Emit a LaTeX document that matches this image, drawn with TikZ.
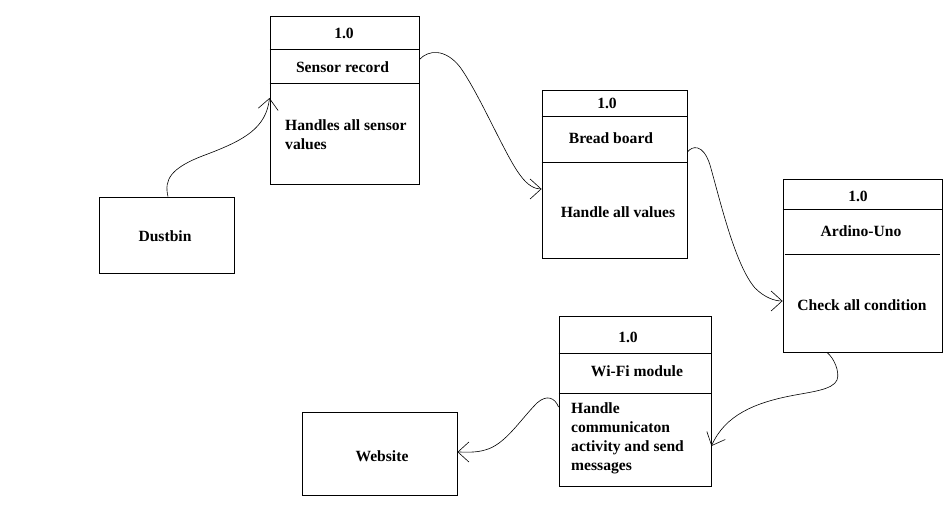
\documentclass[tikz,border=0pt]{standalone}
\usepackage{fontspec}
\setmainfont{Liberation Serif}
\usetikzlibrary{arrows.meta,calc}
\begin{document}
\begin{tikzpicture}[x=1pt,y=-1pt,
  font=\fontsize{15.6}{19}\selectfont\bfseries,
  box/.style={draw,line width=0.9pt,rectangle,inner sep=0pt},
  lbl/.style={inner sep=0pt},
  divider/.style={line width=0.9pt},
  conn/.style={line width=0.6pt,-{Straight Barb[length=11pt,width=20pt,line width=0.6pt]}}]
\useasboundingbox[fill=white] (0,0) rectangle (951,526);

% boxes
\node[box,minimum width=149pt,minimum height=168pt] (sr) at (344.5,100) {};
\node[box,minimum width=145pt,minimum height=168pt] (bb) at (614.5,174) {};
\node[box,minimum width=159pt,minimum height=173pt] (ar) at (862.5,265.5) {};
\node[box,minimum width=152pt,minimum height=170pt] (wf) at (635,401) {};
\node[box,minimum width=135pt,minimum height=76pt] (db) at (166.5,235) {};
\node[lbl] (dbt) at (165,236) {Dustbin};
\node[box,minimum width=155pt,minimum height=83pt] (ws) at (379.5,453.5) {};
\node[lbl] (wst) at (382,456) {Website};

% dividers
\draw[divider] (sr.west |- 0,49) -- (sr.east |- 0,49);
\draw[divider] (sr.west |- 0,83) -- (sr.east |- 0,83);
\draw[divider] (bb.west |- 0,116) -- (bb.east |- 0,116);
\draw[divider] (bb.west |- 0,162) -- (bb.east |- 0,162);
\draw[divider] (ar.west |- 0,209) -- (ar.east |- 0,209);
\draw[divider] ($(ar.west |- 0,254)+(2,0)$) -- ($(ar.east |- 0,254)+(-2,0)$);
\draw[divider] (wf.west |- 0,353) -- (wf.east |- 0,353);
\draw[divider] (wf.west |- 0,393) -- (wf.east |- 0,393);

% texts
\node[lbl] (sr1) at (344,33) {1.0};
\node[lbl] (sr2) at (342.5,67) {Sensor record};
\node[lbl,anchor=west,align=left] (sr3) at (285,135) {Handles all sensor\\values};
\node[lbl] (bb1) at (607,103) {1.0};
\node[lbl] (bb2) at (611,138) {Bread board};
\node[lbl] (bb3) at (618,212) {Handle all values};
\node[lbl] (ar1) at (858,196) {1.0};
\node[lbl] (ar2) at (861,231) {Ardino-Uno};
\node[lbl] (ar3) at (862,305) {Check all condition};
\node[lbl] (wf1) at (628,337) {1.0};
\node[lbl] (wf2) at (637,371) {Wi-Fi module};
\node[lbl,anchor=west,align=left] (wf3) at (571,438) {Handle\\communicaton\\activity and send\\messages};

% connectors
\draw[conn] ([xshift=1.5pt]db.north) .. controls (164,180) and (170,168) .. (205,155)
  .. controls (245,140) and (266,128) .. ([yshift=2pt]sr.west);
\draw[conn] ([yshift=-44pt]sr.north east) .. controls (428,50) and (445,48) .. (460,67)
  .. controls (480,95) and (505,155) .. (520,175)
  .. controls (528,186) and (535,189) .. ([yshift=-15pt]bb.west);
\draw[conn] ([yshift=22pt]bb.east) .. controls (692,146) and (703,143) .. (710,165)
  .. controls (720,200) and (735,265) .. (755,288)
  .. controls (765,298) and (775,301) .. ([yshift=-35.5pt]ar.west);
\draw[conn] ([xshift=-35.5pt]ar.south) .. controls (834,358) and (840,372) .. (837,380)
  .. controls (833,390) and (810,392) .. (790,396)
  .. controls (755,403) and (725,415) .. ([yshift=-45pt]wf.east);
\draw[conn] ([yshift=-6pt]wf.west) .. controls (555,398) and (547,394) .. (537,403)
  .. controls (520,420) and (505,445) .. (485,450)
  .. controls (475,453) and (465,452) .. ([yshift=1.5pt]ws.east);
\end{tikzpicture}
\end{document}
